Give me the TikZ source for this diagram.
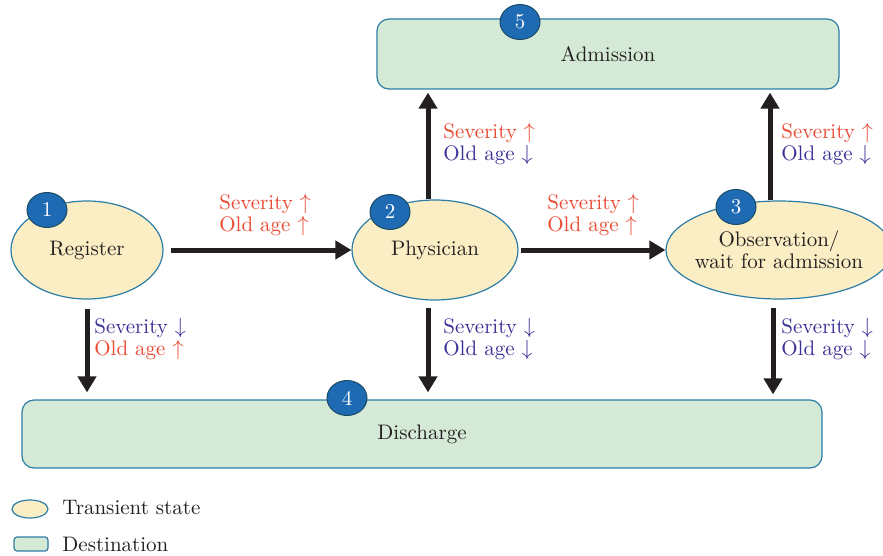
\documentclass[tikz,border=0pt]{standalone}
\usepackage{amssymb, amsmath}
\usepackage{xcolor}
\usepackage{tikz}
\usetikzlibrary{arrows.meta}
\usetikzlibrary{shapes}

\definecolor{stateyellow}{HTML}{FBEEC4}
\definecolor{destgreen}{HTML}{D4EAD6}
\definecolor{edgeblue}{HTML}{2C7DA6}
\definecolor{numblue}{HTML}{1F6BB3}
\definecolor{upred}{HTML}{EB4A32}
\definecolor{downblue}{HTML}{3A3195}
\definecolor{inkgray}{HTML}{231F20}

\begin{document}
\begin{tikzpicture}[x=0.5pt, y=-0.5pt, font=\fontsize{10.5}{11}\selectfont, text=inkgray,
  state/.style={ellipse, fill=stateyellow, draw=edgeblue, line width=0.6pt, inner sep=0pt, align=center},
  dest/.style={rectangle, rounded corners=6pt, fill=destgreen, draw=edgeblue, line width=0.6pt},
  num/.style={ellipse, fill=numblue, draw=edgeblue!60!black, line width=0.5pt, text=white, minimum width=20pt, minimum height=17.5pt, inner sep=0pt},
  flow/.style={line width=2.5pt, draw=inkgray, -{Triangle[width=9pt,length=8pt]}},
  lab/.style={anchor=west, align=left, inner sep=0pt}]

\clip (0,0) rectangle (883,556);

% destinations
\node (adm) at (608, 54) [dest, minimum width=231pt, minimum height=35pt] {Admission};
\node (dis) at (422, 434) [dest, minimum width=400pt, minimum height=34pt] {Discharge};

% transient states
\node (reg) at (87, 250) [state, minimum width=76pt, minimum height=49pt] {Register};
\node (phy) at (435, 250) [state, minimum width=83pt, minimum height=50pt] {Physician};
\node (obs) at (779, 250) [state, inner sep=-5pt, minimum width=113pt, minimum height=49pt] {Observation/\\wait for admission};

% numbers
\node (n1) at (47, 210) [num] {1};
\node (n2) at (390, 212) [num] {2};
\node (n3) at (736, 207) [num] {3};
\node (n4) at (347, 398) [num] {4};
\node (n5) at (520, 22) [num] {5};

% transitions
\draw[flow, shorten <=3.5pt] (reg.east) -- (phy.west);
\draw[flow, shorten <=1pt] (phy.east) -- (obs.west);
\draw[flow, shorten >=1.5pt] ([xshift=-3.5pt]phy.north) -- ([xshift=-3.5pt]phy.north |- adm.south);
\draw[flow, shorten >=1.5pt] ([xshift=-4.5pt]obs.north) -- ([xshift=-4.5pt]obs.north |- adm.south);
\draw[flow, shorten <=4.5pt, shorten >=3.5pt] (reg.south) -- (reg.south |- dis.north);
\draw[flow, shorten <=3.5pt, shorten >=3.5pt] ([xshift=-3.5pt]phy.south) -- ([xshift=-3.5pt]phy.south |- dis.north);
\draw[flow, shorten <=4pt, shorten >=2.5pt] ([xshift=-3pt]obs.south) -- ([xshift=-3pt]obs.south |- dis.north);

% labels
\node (l12) at (219, 215) [lab] {\textcolor{upred}{Severity $\uparrow$}\\\textcolor{upred}{Old age $\uparrow$}};
\node (l23) at (547, 215) [lab] {\textcolor{upred}{Severity $\uparrow$}\\\textcolor{upred}{Old age $\uparrow$}};
\node (l25) at (443, 144) [lab] {\textcolor{upred}{Severity $\uparrow$}\\\textcolor{downblue}{Old age $\downarrow$}};
\node (l35) at (781, 144) [lab] {\textcolor{upred}{Severity $\uparrow$}\\\textcolor{downblue}{Old age $\downarrow$}};
\node (l14) at (94, 339) [lab] {\textcolor{downblue}{Severity $\downarrow$}\\\textcolor{upred}{Old age $\uparrow$}};
\node (l24) at (443, 339) [lab] {\textcolor{downblue}{Severity $\downarrow$}\\\textcolor{downblue}{Old age $\downarrow$}};
\node (l34) at (781, 339) [lab] {\textcolor{downblue}{Severity $\downarrow$}\\\textcolor{downblue}{Old age $\downarrow$}};

% legend
\node (keystate) at (30, 509) [ellipse, fill=stateyellow, draw=edgeblue, line width=0.6pt, minimum width=18pt, minimum height=9pt, inner sep=0pt] {};
\node (keydest) at (31, 544) [rectangle, rounded corners=1.5pt, fill=destgreen, draw=edgeblue, line width=0.6pt, minimum width=17pt, minimum height=7pt, inner sep=0pt] {};
\node (keystatetxt) at (62, 508) [anchor=west, inner sep=0pt] {Transient state};
\node (keydesttxt) at (62, 544) [anchor=west, inner sep=0pt] {Destination};

\end{tikzpicture}
\end{document}
